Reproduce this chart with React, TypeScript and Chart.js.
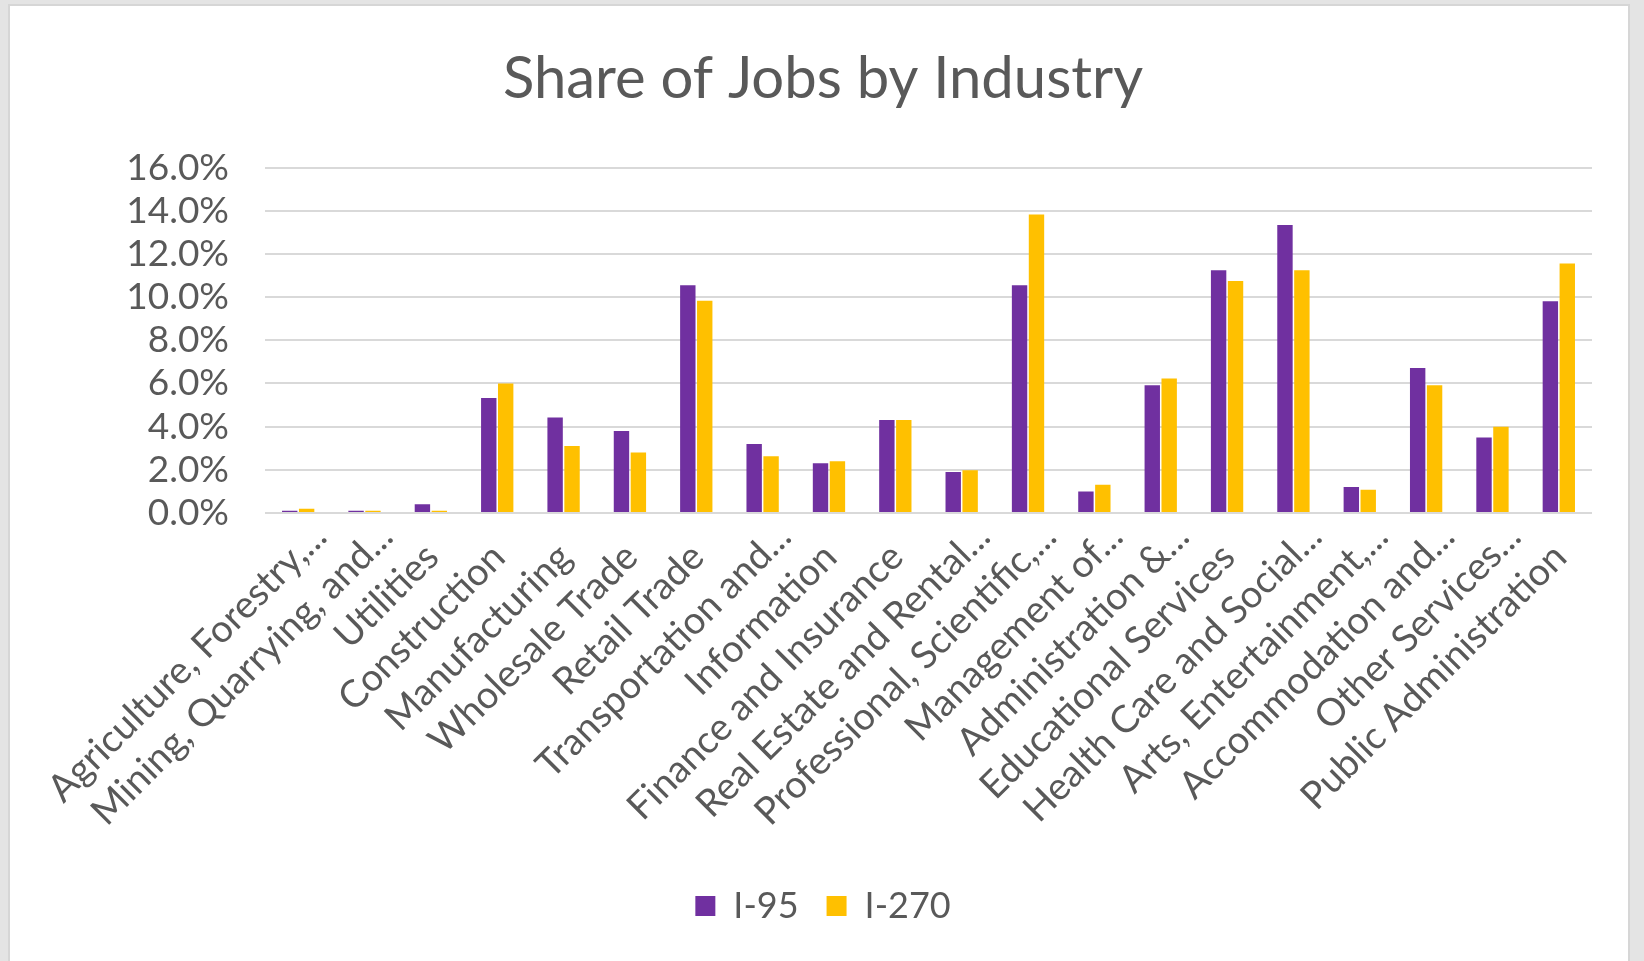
import React, { useEffect, useRef } from "react";
import { Chart, registerables } from "chart.js";

Chart.register(...registerables);

const categories: string[] = [
  "Agriculture, Forestry,...",
  "Mining, Quarrying, and...",
  "Utilities",
  "Construction",
  "Manufacturing",
  "Wholesale Trade",
  "Retail Trade",
  "Transportation and...",
  "Information",
  "Finance and Insurance",
  "Real Estate and Rental...",
  "Professional, Scientific,...",
  "Management of...",
  "Administration &...",
  "Educational Services",
  "Health Care and Social...",
  "Arts, Entertainment,...",
  "Accommodation and...",
  "Other Services...",
  "Public Administration",
];

const i95: number[] = [
  0.11, 0.1, 0.4, 5.33, 4.42, 3.8, 10.55, 3.2, 2.31, 4.31, 1.9, 10.55, 1.0, 5.92, 11.25, 13.34, 1.2, 6.72, 3.5, 9.81,
];

const i270: number[] = [
  0.2, 0.1, 0.1, 6.0, 3.1, 2.8, 9.83, 2.63, 2.4, 4.31, 1.98, 13.83, 1.31, 6.23, 10.75, 11.25, 1.08, 5.92, 4.0, 11.56,
];

const seriesNames: string[] = ["I-95", "I-270"];
const yTicks: number[] = [0, 2, 4, 6, 8, 10, 12, 14, 16];

const FONT = "Lato, 'Open Sans', sans-serif";
const TEXT = "#595959";

export default function App() {
  const ref = useRef<HTMLCanvasElement | null>(null);

  useEffect(() => {
    if (!ref.current) return;
    const chart = new Chart(ref.current, {
      type: "bar",
      data: {
        labels: categories,
        datasets: [
          { label: seriesNames[0], data: i95, backgroundColor: "#7030A0", borderWidth: 0 },
          { label: seriesNames[1], data: i270, backgroundColor: "#FFC000", borderWidth: 0 },
        ],
      },
      options: {
        animation: false,
        responsive: false,
        maintainAspectRatio: false,
        layout: { padding: { left: 54, right: 52, top: 10, bottom: 27 } },
        plugins: {
          title: {
            display: true,
            text: "Share of Jobs by Industry",
            color: TEXT,
            font: { family: FONT, size: 58, weight: "normal" },
            padding: { top: 34, bottom: 54 },
          },
          legend: {
            display: true,
            position: "bottom",
            labels: {
              color: TEXT,
              font: { family: FONT, size: 36 },
              boxWidth: 20,
              boxHeight: 20,
              padding: 28,
            },
          },
          tooltip: { enabled: false },
        },
        scales: {
          x: {
            grid: { display: false, drawTicks: false },
            border: { display: false },
            ticks: {
              color: TEXT,
              font: { family: FONT, size: 38 },
              minRotation: 45,
              maxRotation: 45,
              autoSkip: false,
              labelOffset: 22,
              padding: 1,
              callback: function (this: any, _v: any, i: number) {
                const c = categories[i];
                return c.endsWith("...") ? c : c + "   ";
              },
            },
            afterFit: (scale: any) => {
              scale.height = 347;
            },
          },
          y: {
            min: 0,
            max: 16,
            afterBuildTicks: (scale: any) => {
              scale.ticks = yTicks.map((v) => ({ value: v }));
            },
            grid: { color: "#D9D9D9", lineWidth: 2, drawTicks: false },
            border: { display: false },
            ticks: {
              color: TEXT,
              font: { family: FONT, size: 37 },
              padding: 36,
              autoSkip: false,
              callback: (v: any) => Number(v).toFixed(1) + "%",
            },
            afterFit: (scale: any) => {
              scale.width = 211;
            },
          },
        },
        datasets: {
          bar: { categoryPercentage: 0.51, barPercentage: 0.91 },
        },
      } as any,
    });
    return () => chart.destroy();
  }, []);

  return (
    <div style={{ position: "fixed", left: 0, top: 0, width: 1644, height: 961, background: "#E4E4E4", overflow: "hidden" }}>
      <div
        style={{
          position: "absolute",
          left: 8,
          top: 4,
          width: 1622,
          height: 970,
          background: "#FFFFFF",
          border: "2px solid #D6D6D6",
          boxSizing: "border-box",
        }}
      />
      <canvas ref={ref} width={1644} height={961} style={{ position: "absolute", left: 0, top: 0, width: 1644, height: 961 }} />
    </div>
  );
}
